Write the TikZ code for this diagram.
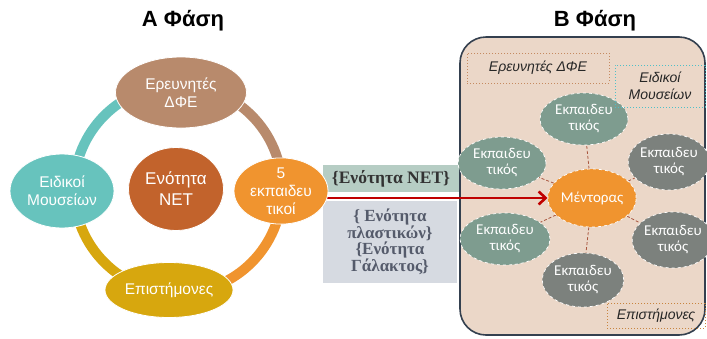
\documentclass[tikz,border=0pt]{standalone}
\usepackage{fontspec}
\setmainfont{Liberation Sans}
\newfontfamily\carl{Carlito}
\newfontfamily\serifB{Liberation Serif}
\usetikzlibrary{shapes.geometric,arrows.meta}
\pgfdeclarelayer{bg}
\pgfdeclarelayer{mid}
\pgfsetlayers{bg,mid,main}
\definecolor{cteal}{HTML}{67C3BD}
\definecolor{cbrown}{HTML}{B88A6C}
\definecolor{corange}{HTML}{F0942F}
\definecolor{cgold}{HTML}{D7A70E}
\definecolor{cnet}{HTML}{C2632C}
\definecolor{boxgreen}{HTML}{B6CDC4}
\definecolor{boxgray}{HTML}{D6DAE1}
\definecolor{boxtext}{HTML}{555B6B}
\definecolor{panelfill}{HTML}{EBD7C8}
\definecolor{panelline}{HTML}{34404F}
\definecolor{sage}{HTML}{7E9C8F}
\definecolor{dgray}{HTML}{7C817D}
\definecolor{darrow}{HTML}{C00000}
\definecolor{conncol}{HTML}{A8553E}
\definecolor{lblbrown}{HTML}{C58A60}
\definecolor{lblcyan}{HTML}{4FC0C8}
\definecolor{lblorange}{HTML}{C8843E}
\begin{document}
\begin{tikzpicture}[x=1pt,y=-1pt,
  ring/.style={line width=10pt},
  lell/.style={ellipse, draw=white, line width=0.8pt, text=white, align=center, inner sep=0pt,
     font=\fontsize{15.5}{18}\selectfont},
  rell/.style={ellipse, draw=white, dashed, line width=0.7pt, text=white, align=center, inner sep=0pt,
     font=\carl\fontsize{15}{16}\selectfont, minimum width=88pt, minimum height=52pt},
  lbl/.style={draw, dotted, line width=1pt, align=center, inner sep=0pt, text=black!85,
     font=\itshape\fontsize{14}{17}\selectfont},
  conn/.style={draw=conncol, dashed, line width=0.8pt, dash pattern=on 3pt off 2pt},
  title/.style={font=\bfseries\fontsize{22}{26}\selectfont}
]
\useasboundingbox (0,0) rectangle (707,338);
\begin{pgfonlayer}{bg}
\fill[white] (0,0) rectangle (707,338);
\end{pgfonlayer}

% titles
\node[title] (ta) at (183,21) {Α Φάση};
\node[title] (tb) at (595,21) {Β Φάση};

% ring
\begin{pgfonlayer}{bg}
\draw[ring,cteal]  (178,189) ++(180:104) arc[start angle=180,end angle=270,radius=104];
\draw[ring,cbrown] (178,189) ++(270:104) arc[start angle=270,end angle=360,radius=104];
\draw[ring,corange](178,189) ++(0:104)   arc[start angle=0,end angle=90,radius=104];
\draw[ring,cgold]  (178,189) ++(90:104)  arc[start angle=90,end angle=180,radius=104];
% right panel
\draw[fill=panelfill, draw=panelline, line width=1.6pt, rounded corners=26pt] (460,37) rectangle (705,335);
% middle boxes
\node[fill=boxgreen, minimum width=136pt, minimum height=27pt, inner sep=0pt,
  font=\serifB\bfseries\fontsize{17.5}{19}\selectfont, text=black!80] (gbox) at (391,178.5) {\{Ενότητα NET\}};
\node[fill=boxgray, minimum width=134pt, minimum height=82pt, inner sep=0pt, align=center,
  font=\serifB\bfseries\fontsize{17}{16}\selectfont, text=boxtext] (ybox) at (390,242)
  {\{ Ενότητα\\πλαστικών\}\\\{Ενότητα\\Γάλακτος\}};
\end{pgfonlayer}

% left nodes
\node[lell, fill=cbrown, minimum width=131pt, minimum height=71pt] (erev) at (181,92.5) {Ερευνητές\\ΔΦΕ};
\node[lell, fill=cteal, minimum width=104pt, minimum height=74pt] (eid) at (62,191) {Ειδικοί\\Μουσείων};
\node[lell, fill=cnet, minimum width=95pt, minimum height=83pt, font=\fontsize{17}{21}\selectfont] (net) at (176,189) {Ενότητα\\NET};
\node[lell, fill=corange, minimum width=94pt, minimum height=66pt] (five) at (281,191) {5\\εκπαιδευ\\τικοί};
\node[lell, fill=cgold, minimum width=128pt, minimum height=55pt] (epi) at (169,290) {Επιστήμονες};

% right nodes
\node[rell, fill=corange, minimum width=88pt, minimum height=58pt] (ment) at (592,198) {Μέντορας};
\node[rell, fill=sage] (e1) at (584,119) {Εκπαιδευ\\τικός};
\node[rell, fill=sage] (e2) at (502,163) {Εκπαιδευ\\τικός};
\node[rell, fill=dgray, minimum width=80pt, minimum height=56pt] (e3) at (669,162) {Εκπαιδευ\\τικός};
\node[rell, fill=sage, minimum width=90pt] (e4) at (505,239) {Εκπαιδευ\\τικός};
\node[rell, fill=dgray, minimum width=76pt, minimum height=56pt] (e5) at (673,240) {Εκπαιδευ\\τικός};
\node[rell, fill=dgray, minimum width=80pt, minimum height=54pt] (e6) at (583,280) {Εκπαιδευ\\τικός};

% labels
\node[lbl, draw=lblbrown, minimum width=142pt, minimum height=30pt] (l1) at (538,68) {Ερευνητές ΔΦΕ};
\node[lbl, draw=lblcyan, minimum width=90pt, minimum height=42pt] (l2) at (660,86) {Ειδικοί\\Μουσείων};
\node[lbl, draw=lblorange, minimum width=98pt, minimum height=25pt] (l3) at (656,315.5) {Επιστήμονες};

\begin{pgfonlayer}{mid}
\coordinate (as) at (318,198);
\draw[darrow, line width=2.6pt, -{Straight Barb[length=7pt,width=13pt]}] (as) -- (ment.west);
\foreach \e in {e1,e2,e3,e4,e5,e6} \draw[conn] (ment) -- (\e);
\end{pgfonlayer}
\end{tikzpicture}
\end{document}
